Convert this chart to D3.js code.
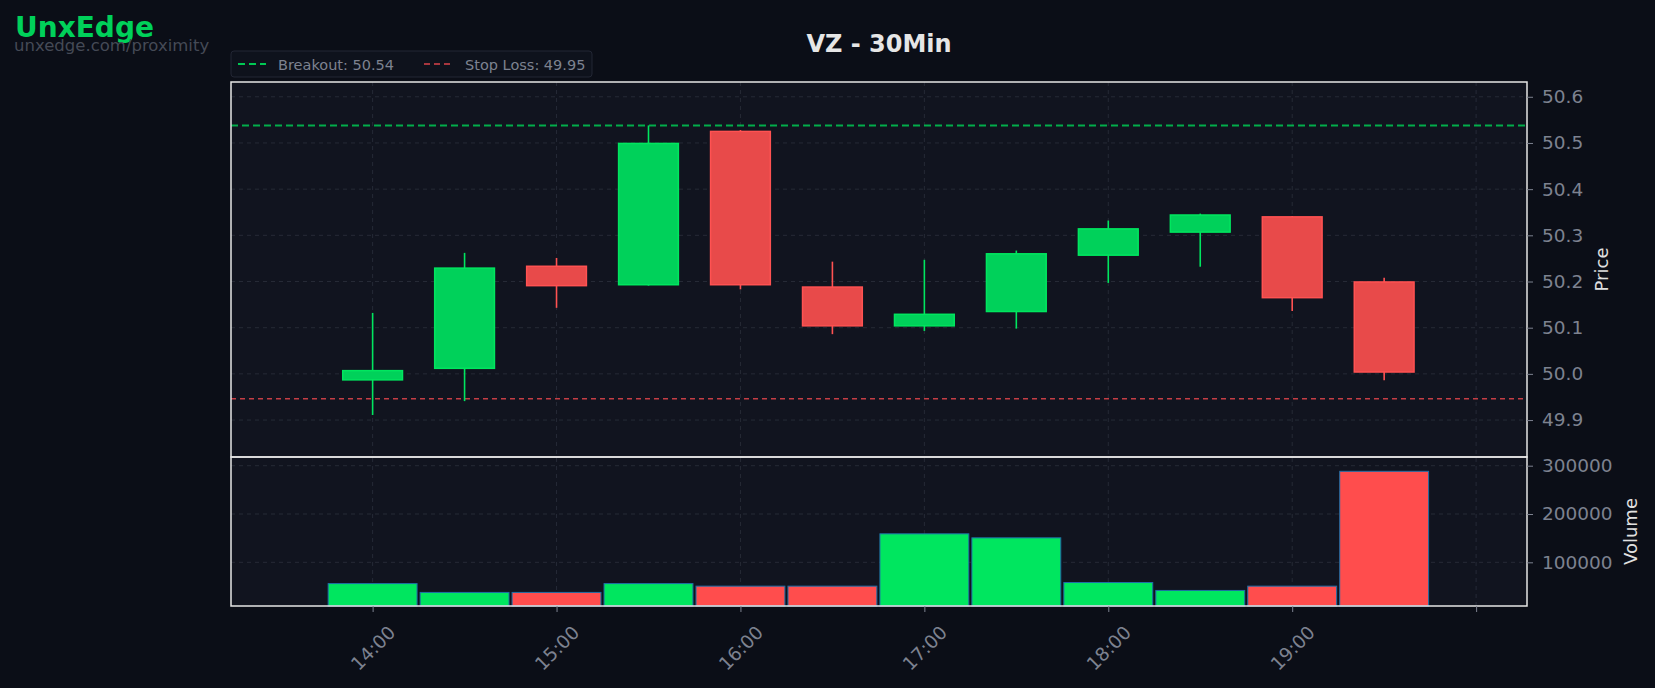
<!DOCTYPE html>
<html><head><meta charset="utf-8">
<script src="https://cdn.jsdelivr.net/npm/d3@7"></script>
<style>
html,body{margin:0;padding:0;background:#0b0e17;}
svg{display:block;font-family:"DejaVu Sans",sans-serif;}
</style></head><body>
<svg id="c" width="1655" height="688"></svg>
<script>
// ---- data ----
const times = ["14:00","14:30","15:00","15:30","16:00","16:30","17:00","17:30","18:00","18:30","19:00","19:30"];
const opens  = [49.987, 50.012, 50.233, 50.193, 50.525, 50.188, 50.104, 50.135, 50.257, 50.307, 50.340, 50.199];
const highs  = [50.132, 50.262, 50.251, 50.538, 50.528, 50.243, 50.247, 50.267, 50.332, 50.347, 50.342, 50.208];
const lows   = [49.911, 49.941, 50.143, 50.191, 50.183, 50.086, 50.093, 50.098, 50.197, 50.232, 50.136, 49.986];
const closes = [50.007, 50.229, 50.191, 50.499, 50.193, 50.104, 50.129, 50.260, 50.314, 50.344, 50.165, 50.004];
const volumes = [56000, 37700, 37700, 56000, 50700, 50700, 159000, 150700, 58200, 41800, 50700, 288400];
const breakout = 50.538;
const stopLoss = 49.946;
const priceTicks = [49.9, 50.0, 50.1, 50.2, 50.3, 50.4, 50.5, 50.6];
const volumeTicks = [100000, 200000, 300000];
const xTickLabels = ["14:00","15:00","16:00","17:00","18:00","19:00","20:00"];
const xTickShown  = ["14:00","15:00","16:00","17:00","18:00","19:00",""];
const title = "VZ - 30Min";

const toMin = s => { const [h,m] = s.split(":").map(Number); return h*60+m; };
const data = times.map((t,i)=>({t:toMin(t), o:opens[i], h:highs[i], l:lows[i], c:closes[i], v:volumes[i]}));

// ---- layout ----
const L = 231, R = 1527, T = 82, MID = 457, B = 606;
const svg = d3.select("#c");
const x = d3.scaleLinear().domain([793.8, 1216.6]).range([L, R]);
const yP = d3.scaleLinear().domain([49.82, 50.632]).range([MID, T]);
const yV = d3.scaleLinear().domain([9600, 318000]).range([B, MID]);

const GREEN_BODY = "#00d15a", GREEN_EDGE = "#00e65f";
const RED_BODY = "#e84a4a", RED_EDGE = "#ff5252";
const VOL_GREEN = "#00e65f", VOL_RED = "#ff4d4d", VOL_EDGE = "#1f6fa8";
const GRID = "#262a36", TICKTXT = "#7d8290", LBL = "#e0e0e0";

// panel backgrounds
svg.append("rect").attr("x",L).attr("y",T).attr("width",R-L).attr("height",MID-T).attr("fill","#11141f");
svg.append("rect").attr("x",L).attr("y",MID).attr("width",R-L).attr("height",B-MID).attr("fill","#11141f");

// grids
const xTickVals = xTickLabels.map(toMin);
const gGrid = svg.append("g").attr("stroke",GRID).attr("stroke-dasharray","4,4").attr("stroke-width",1);
xTickVals.forEach(v=>{
  gGrid.append("line").attr("x1",x(v)).attr("x2",x(v)).attr("y1",T).attr("y2",B);
});
priceTicks.forEach(v=>{
  gGrid.append("line").attr("x1",L).attr("x2",R).attr("y1",yP(v)).attr("y2",yP(v));
});
volumeTicks.forEach(v=>{
  gGrid.append("line").attr("x1",L).attr("x2",R).attr("y1",yV(v)).attr("y2",yV(v));
});

// reference lines
svg.append("line").attr("x1",L).attr("x2",R).attr("y1",yP(breakout)).attr("y2",yP(breakout))
  .attr("stroke","#00c853").attr("stroke-width",2).attr("stroke-dasharray","7,4").attr("opacity",0.85);
svg.append("line").attr("x1",L).attr("x2",R).attr("y1",yP(stopLoss)).attr("y2",yP(stopLoss))
  .attr("stroke","#d9434a").attr("stroke-width",1.6).attr("stroke-dasharray","5,4").attr("opacity",0.9);

// candles
const bodyW = 19.5, volW = 29;
const gC = svg.append("g");
data.forEach(d=>{
  const up = d.c >= d.o;
  const cx = x(d.t);
  gC.append("line").attr("x1",cx).attr("x2",cx).attr("y1",yP(d.h)).attr("y2",yP(d.l))
    .attr("stroke", up?GREEN_EDGE:RED_EDGE).attr("stroke-width",1.6);
  const top = yP(Math.max(d.o,d.c)), bot = yP(Math.min(d.o,d.c));
  gC.append("rect").attr("x",x(d.t - bodyW/2)).attr("width",x(d.t+bodyW/2)-x(d.t-bodyW/2))
    .attr("y",top).attr("height",Math.max(1,bot-top))
    .attr("fill", up?GREEN_BODY:RED_BODY).attr("stroke", up?GREEN_EDGE:RED_EDGE).attr("stroke-width",1.5);
});

// volume bars
const gV = svg.append("g");
data.forEach(d=>{
  const up = d.c >= d.o;
  gV.append("rect").attr("x",x(d.t - volW/2)).attr("width",x(d.t+volW/2)-x(d.t-volW/2))
    .attr("y",yV(d.v)).attr("height",B - yV(d.v))
    .attr("fill", up?VOL_GREEN:VOL_RED).attr("stroke",VOL_EDGE).attr("stroke-width",1);
});

// frames
svg.append("rect").attr("x",L).attr("y",T).attr("width",R-L).attr("height",MID-T)
  .attr("fill","none").attr("stroke","#e6e6e6").attr("stroke-width",1.5);
svg.append("rect").attr("x",L).attr("y",MID).attr("width",R-L).attr("height",B-MID)
  .attr("fill","none").attr("stroke","#e6e6e6").attr("stroke-width",1.5);

// right axes
const axP = d3.axisRight(yP).tickValues(priceTicks).tickFormat(d3.format(".1f")).tickSize(6).tickPadding(9);
const gP = svg.append("g").attr("transform",`translate(${R},0)`).call(axP);
const axV = d3.axisRight(yV).tickValues(volumeTicks).tickFormat(d3.format("d")).tickSize(6).tickPadding(9);
const gVa = svg.append("g").attr("transform",`translate(${R},0)`).call(axV);
[gP,gVa].forEach(g=>{
  g.select(".domain").remove();
  g.selectAll(".tick line").attr("stroke","#7d8290");
  g.selectAll(".tick text").attr("fill",TICKTXT).attr("font-size",18.5).attr("font-family","DejaVu Sans");
});

// bottom axis
const axX = d3.axisBottom(x).tickValues(xTickVals).tickFormat((d,i)=>xTickShown[i]).tickSize(6).tickPadding(4);
const gX = svg.append("g").attr("transform",`translate(0,${B})`).call(axX);
gX.select(".domain").remove();
gX.selectAll(".tick line").attr("stroke","#7d8290");
gX.selectAll(".tick text").attr("fill",TICKTXT).attr("font-size",18.5).attr("font-family","DejaVu Sans")
  .attr("text-anchor","middle").attr("y",0).attr("dy","0.35em")
  .attr("transform","translate(0,42) rotate(-45)");

// axis titles
svg.append("text").attr("transform",`translate(${1608},${(T+MID)/2}) rotate(-90)`)
  .attr("text-anchor","middle").attr("fill",LBL).attr("font-size",18).text("Price");
svg.append("text").attr("transform",`translate(${1637},${(MID+B)/2}) rotate(-90)`)
  .attr("text-anchor","middle").attr("fill",LBL).attr("font-size",18).text("Volume");

// title
svg.append("text").attr("x",(L+R)/2).attr("y",52).attr("text-anchor","middle")
  .attr("fill","#e6e6e6").attr("font-size",24).attr("font-weight","bold").text(title);

// watermark
svg.append("text").attr("x",15).attr("y",37).attr("fill","#00d15a").attr("font-size",28)
  .attr("font-weight","bold").text("UnxEdge");
svg.append("text").attr("x",14).attr("y",51).attr("fill","#454a56").attr("font-size",16.5)
  .text("unxedge.com/proximity");

// legend
const lg = svg.append("g");
lg.append("rect").attr("x",231).attr("y",51).attr("width",361).attr("height",26).attr("rx",3)
  .attr("fill","#0e121c").attr("stroke","#222634").attr("stroke-width",1);
lg.append("line").attr("x1",238).attr("x2",266).attr("y1",64).attr("y2",64)
  .attr("stroke","#00c853").attr("stroke-width",2).attr("stroke-dasharray","7,4");
lg.append("text").attr("x",278).attr("y",69.5).attr("fill","#7d8290").attr("font-size",14.5)
  .text("Breakout: " + breakout.toFixed(2));
lg.append("line").attr("x1",424).attr("x2",454).attr("y1",64).attr("y2",64)
  .attr("stroke","#d9434a").attr("stroke-width",1.6).attr("stroke-dasharray","6,4");
lg.append("text").attr("x",465).attr("y",69.5).attr("fill","#7d8290").attr("font-size",14.5)
  .text("Stop Loss: " + stopLoss.toFixed(2));
</script>
</body></html>
